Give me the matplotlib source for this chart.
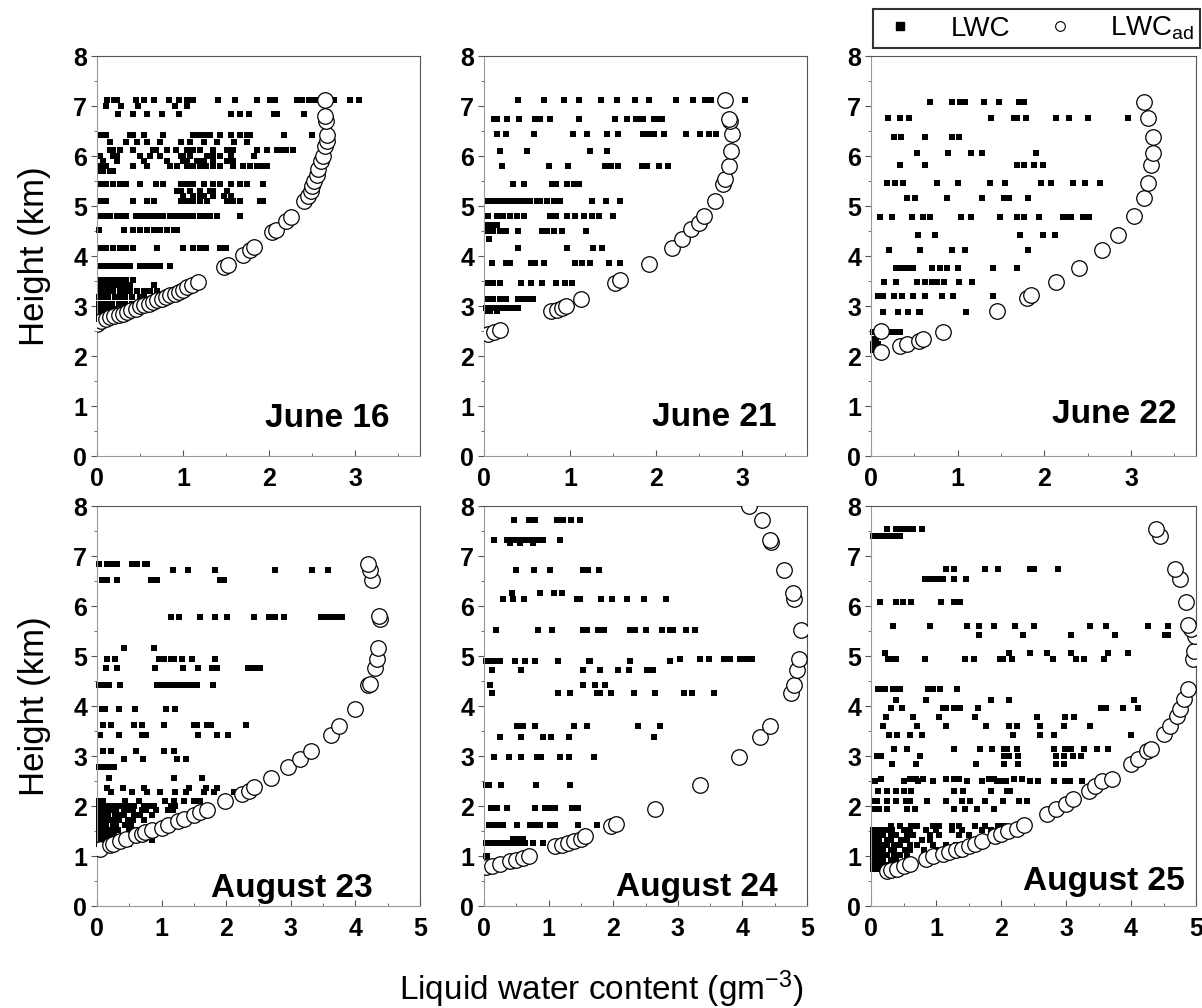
import matplotlib
matplotlib.use("Agg")
import matplotlib.pyplot as plt
from matplotlib.lines import Line2D
from matplotlib.ticker import MultipleLocator

plt.rcParams['font.family'] = ['Liberation Sans', 'DejaVu Sans']
plt.rcParams['mathtext.fontset'] = 'custom'
plt.rcParams['mathtext.rm'] = 'Liberation Sans'
plt.rcParams['mathtext.it'] = 'Liberation Sans'

# ---- data: LWC measured, as rows (height km, list of LWC values g/m3) ----
jun16_lwc = [
    (7.12, [0.12, 0.2, 0.23, 0.45, 0.55, 0.66, 0.84, 0.95, 1.04, 1.11, 1.40, 1.60, 1.86, 2.01, 2.07,
            2.32, 2.38, 2.46, 2.53, 2.75, 2.94, 3.04]),
    (7.0, [0.1, 0.28, 0.48, 0.9, 1.05]),
    (6.85, [0.24, 0.42, 0.58, 0.75, 0.95, 1.55, 1.66, 1.76, 2.05, 2.09, 2.40]),
    (6.42, [0.03, 0.07, 0.11, 0.38, 0.42, 0.54, 0.77, 1.12, 1.16, 1.2, 1.27, 1.31, 1.43, 1.55, 1.66,
            1.74, 1.78, 2.17, 2.5]),
    (6.28, [0.15, 0.34, 0.46, 0.58, 0.73, 0.97, 1.08, 1.24, 1.39, 1.59, 1.74]),
    (6.12, [0.15, 0.19, 0.27, 0.42, 0.65, 0.69, 0.81, 0.92, 1.04, 1.08, 1.12, 1.2, 1.35, 1.51, 1.58,
            1.86, 1.97, 2.09, 2.13, 2.2, 2.28]),
    (6.0, [0.03, 0.19, 0.23, 0.5, 0.62, 0.73, 0.97, 1.0, 1.08, 1.28, 1.31, 1.35, 1.43, 1.55, 1.82]),
    (5.9, [0.07, 0.23, 0.54, 0.81, 1.0, 1.04, 1.16, 1.2, 1.24, 1.35, 1.51, 1.58]),
    (5.8, [0.03, 0.07, 0.11, 0.42, 0.58, 0.85, 0.93, 1.04, 1.12, 1.2, 1.27, 1.35, 1.43, 1.58, 1.7,
           1.78, 1.86, 1.93, 1.97]),
    (5.7, [0.03, 0.07, 0.15, 0.19]),
    (5.45, [0.03, 0.11, 0.19, 0.27, 0.34, 0.5, 0.69, 0.77, 0.97, 1.04, 1.12, 1.24, 1.35, 1.43, 1.55,
            1.66, 1.74, 1.93]),
    (5.3, [0.93, 0.97, 1.08, 1.2, 1.31, 1.35, 1.51]),
    (5.2, [1.0, 1.12, 1.2, 1.24, 1.35, 1.47, 1.55]),
    (5.1, [0.03, 0.11, 0.42, 0.58, 0.66, 0.97, 1.04, 1.12, 1.2, 1.28, 1.51, 1.58, 1.66, 1.89, 1.93]),
    (4.8, [0.03, 0.07, 0.11, 0.15, 0.23, 0.27, 0.34, 0.45, 0.5, 0.54, 0.58, 0.62, 0.66, 0.73, 0.77,
           0.85, 0.89, 0.93, 0.97, 1.04, 1.08, 1.12, 1.2, 1.24, 1.31, 1.39, 1.66]),
    (4.52, [0.02, 0.31, 0.42, 0.5, 0.58, 0.66, 0.73, 0.81, 0.89, 0.93]),
    (4.15, [0.03, 0.11, 0.19, 0.27, 0.34, 0.42, 0.7, 1.0, 1.12, 1.2, 1.27, 1.43, 1.5]),
    (3.8, [0.03, 0.07, 0.11, 0.15, 0.19, 0.23, 0.27, 0.31, 0.34, 0.38, 0.5, 0.54, 0.58, 0.62, 0.66,
           0.73, 0.85]),
    (3.52, [0.03, 0.07, 0.11, 0.15, 0.19, 0.23, 0.27, 0.34, 0.42]),
    (3.42, [0.03, 0.07, 0.11, 0.15, 0.19, 0.23, 0.27, 0.31, 0.38, 0.66]),
    (3.3, [0.03, 0.07, 0.11, 0.15, 0.19, 0.27, 0.31, 0.38, 0.46, 0.54, 0.62, 0.7]),
    (3.18, [0.02, 0.05, 0.09, 0.13, 0.21, 0.25, 0.33, 0.41, 0.5, 0.55]),
    (3.05, [0.02, 0.05, 0.09, 0.13, 0.17, 0.25, 0.33, 0.41]),
    (2.95, [0.02, 0.05, 0.09, 0.13, 0.17, 0.21]),
    (2.85, [0.02, 0.05, 0.09, 0.12]),
    (2.75, [0.02, 0.05]),
]
jun21_lwc = [
    (7.13, [0.40, 0.70, 0.93, 1.1, 1.36, 1.54, 1.75, 1.92, 2.23, 2.43, 2.56, 2.6, 2.64, 3.03]),
    (6.75, [0.12, 0.15, 0.27, 0.41, 0.59, 0.65, 0.77, 1.1, 1.52, 1.66, 1.76, 1.8, 1.85, 1.97, 2.03, 2.07]),
    (6.45, [0.15, 0.26, 0.58, 1.03, 1.2, 1.43, 1.56, 1.85, 1.91, 1.97, 2.09, 2.35, 2.51, 2.61, 2.69]),
    (6.1, [0.18, 0.5, 1.23, 1.43]),
    (5.8, [0.21, 0.76, 0.98, 1.41, 1.47, 1.56, 1.83, 1.89, 2.03, 2.14]),
    (5.45, [0.34, 0.46, 0.79, 0.84, 0.96, 1.04, 1.1]),
    (5.1, [0.05, 0.11, 0.17, 0.22, 0.28, 0.34, 0.4, 0.46, 0.53, 0.61, 0.65, 0.73, 0.81, 0.88, 1.25,
           1.42, 1.58]),
    (4.8, [0.05, 0.15, 0.22, 0.3, 0.38, 0.46, 0.77, 0.84, 0.96, 1.06, 1.16, 1.25, 1.33, 1.5]),
    (4.62, [0.05, 0.11, 0.15]),
    (4.5, [0.05, 0.11, 0.19, 0.26, 0.4, 0.67, 0.73, 0.81, 0.9, 1.19]),
    (4.35, [0.06]),
    (4.17, [0.39, 0.96, 1.26, 1.37]),
    (3.86, [0.09, 0.26, 0.3, 0.55, 0.59, 0.7, 1.06, 1.14, 1.23, 1.45, 1.58]),
    (3.47, [0.05, 0.11, 0.19, 0.43, 0.55, 0.67, 0.84, 0.94, 1.02]),
    (3.15, [0.05, 0.11, 0.19, 0.26, 0.4, 0.46, 0.52, 0.57]),
    (2.96, [0.02, 0.05, 0.09, 0.13, 0.17, 0.22, 0.28, 0.34, 0.4]),
    (2.9, [0.03, 0.07, 0.15]),
]
jun22_lwc = [
    (7.08, [0.68, 0.93, 1.03, 1.08, 1.3, 1.48, 1.71, 1.77]),
    (6.77, [0.2, 0.33, 0.44, 1.39, 1.65, 1.69, 1.79, 2.14, 2.29, 2.5, 2.96]),
    (6.38, [0.26, 0.35, 0.62, 0.93, 1.02]),
    (6.06, [0.53, 0.89, 1.15, 1.28, 1.9]),
    (5.83, [0.33, 0.62, 1.68, 1.77, 1.88, 1.98]),
    (5.47, [0.19, 0.28, 0.37, 0.76, 1.0, 1.37, 1.55, 1.96, 2.08, 2.33, 2.47, 2.64]),
    (5.16, [0.42, 0.51, 0.88, 1.28, 1.54, 1.59, 1.81]),
    (4.79, [0.1, 0.24, 0.47, 0.6, 0.68, 1.04, 1.15, 1.49, 1.69, 1.77, 1.94, 2.21, 2.27, 2.31, 2.45, 2.52]),
    (4.43, [0.54, 0.74, 1.72, 1.98, 2.12]),
    (4.13, [0.21, 0.56, 0.93, 1.08, 1.81]),
    (3.77, [0.29, 0.35, 0.41, 0.49, 0.7, 0.8, 0.88, 1.0, 1.41, 1.69]),
    (3.48, [0.15, 0.29, 0.53, 0.62, 0.7, 0.76, 0.84, 1.01, 1.17]),
    (3.2, [0.08, 0.14, 0.26, 0.36, 0.48, 0.62, 0.82, 0.95, 1.41]),
    (2.89, [0.14, 0.31, 0.43, 0.55, 0.57, 1.1]),
    (2.48, [0.02, 0.2, 0.26, 0.33]),
    (2.35, [0.03, 0.06]),
    (2.25, [0.02, 0.05, 0.08]),
    (2.12, [0.02, 0.04]),
]
aug23_lwc = [
    (6.85, [0.03, 0.16, 0.23, 0.31, 0.54, 0.62, 0.75, 0.78]),
    (6.73, [1.18, 1.41, 1.83, 2.76, 3.33, 3.57]),
    (6.53, [0.08, 0.16, 0.31, 0.83, 0.93, 1.91, 1.96]),
    (5.78, [1.15, 1.27, 1.6, 1.83, 2.02, 2.43, 2.66, 2.76, 2.89, 3.46, 3.54, 3.62, 3.72, 3.8]),
    (5.17, [0.42, 0.89]),
    (4.95, [0.16, 0.28, 0.96, 1.03, 1.14, 1.19, 1.32, 1.47, 1.82]),
    (4.77, [0.14, 0.31, 0.9, 1.33, 1.56, 1.78, 1.86, 2.33, 2.4, 2.48, 2.53]),
    (4.42, [0.03, 0.1, 0.18, 0.36, 0.93, 1.0, 1.09, 1.16, 1.24, 1.32, 1.4, 1.47, 1.55, 1.8]),
    (3.95, [0.08, 0.13, 0.34, 0.59, 1.07, 1.21]),
    (3.62, [0.1, 0.21, 0.57, 0.7, 1.03, 1.5, 1.55, 1.71, 1.76, 2.3]),
    (3.43, [0.04, 0.34, 0.7, 0.76, 1.56, 1.85, 2.03]),
    (3.1, [0.1, 0.21, 0.61, 1.03, 1.19]),
    (2.95, [0.42, 0.71, 1.24, 1.37]),
    (2.78, [0.03, 0.08, 0.13, 0.21, 0.26]),
    (2.57, [0.18, 1.19, 1.63]),
    (2.37, [0.16, 0.41, 0.72, 1.42, 1.68, 1.86]),
    (2.28, [0.21, 0.54, 0.78, 0.98, 1.21, 1.37, 1.65, 1.81, 2.12, 2.2]),
    (2.1, [0.03, 0.1, 0.44, 0.65, 1.06, 1.19, 1.34, 1.5, 1.6]),
    (2.0, [0.03, 0.07, 0.11, 0.2, 0.26, 0.36, 0.42, 0.5, 0.58, 0.72, 0.8, 0.88, 1.15, 1.2]),
    (1.92, [0.03, 0.07, 0.11, 0.15, 0.25, 0.3, 0.42, 0.48, 0.55, 0.7, 0.76, 0.92, 1.1, 1.18]),
    (1.83, [0.03, 0.07, 0.12, 0.17, 0.28, 0.35, 0.42, 0.58, 0.66, 0.85]),
    (1.73, [0.03, 0.07, 0.12, 0.22, 0.28, 0.34, 0.48, 0.56, 0.72]),
    (1.63, [0.03, 0.06, 0.1, 0.14, 0.24, 0.3, 0.44, 0.52]),
    (1.53, [0.03, 0.06, 0.1, 0.19, 0.25, 0.32, 0.5, 0.62, 0.72]),
    (1.43, [0.03, 0.06, 0.1, 0.14, 0.2, 0.27, 0.45, 0.55, 0.68]),
    (1.33, [0.03, 0.06, 0.1, 0.15, 0.22, 0.3, 0.4, 0.48, 0.85]),
    (1.25, [0.03, 0.06, 0.12, 0.2, 0.3, 0.4, 0.5]),
]
aug24_lwc = [
    (7.73, [0.47, 0.69, 0.79, 1.13, 1.23, 1.34, 1.49]),
    (7.33, [0.16, 0.35, 0.45, 0.53, 0.58, 0.63, 0.69, 0.74, 0.79, 0.84, 0.92, 1.18]),
    (7.27, [0.40, 0.56, 0.76]),
    (6.72, [0.5, 0.78, 1.02, 1.54, 1.61, 1.78]),
    (6.27, [0.43, 0.87, 1.09, 1.21]),
    (6.15, [0.3, 0.45, 0.62, 1.44, 1.49, 1.81, 1.98, 2.21, 2.47, 2.81]),
    (5.53, [0.19, 0.84, 1.05, 1.53, 1.59, 1.77, 1.85, 2.26, 2.34, 2.5, 2.75, 2.88, 2.93, 3.12, 3.27]),
    (4.95, [3.04, 3.35, 3.48, 3.71, 3.81, 3.97, 4.05, 4.15]),
    (4.9, [0.03, 0.09, 0.17, 0.25, 0.48, 0.64, 0.79, 1.14, 1.62, 1.64, 2.26, 2.88]),
    (4.72, [0.12, 0.58, 1.53, 1.8, 2.08, 2.24, 2.52, 2.62]),
    (4.43, [0.09, 1.53, 1.72, 1.88]),
    (4.27, [0.12, 1.15, 1.33, 1.75, 1.8, 1.96, 2.32, 2.65, 3.09, 3.22, 3.56]),
    (3.6, [0.51, 0.61, 0.79, 1.4, 1.59, 2.39, 2.73]),
    (3.38, [0.25, 0.58, 0.92, 1.03, 1.32, 2.63]),
    (2.98, [0.16, 0.38, 0.58, 0.82, 0.89, 1.17, 1.31, 1.71]),
    (2.43, [0.03, 0.08, 0.27, 0.81, 1.33]),
    (1.97, [0.11, 0.2, 0.35, 0.79, 0.94, 0.99, 1.05, 1.1, 1.36, 1.41, 1.46]),
    (1.62, [0.07, 0.14, 0.22, 0.3, 0.51, 0.71, 0.76, 0.81, 0.87, 1.02, 1.1, 1.45, 1.75]),
    (1.35, [0.45, 0.53, 0.61]),
    (1.27, [0.03, 0.08, 0.14, 0.2, 0.25, 0.3, 0.35, 0.45, 0.51, 0.56, 0.64, 0.76, 0.92]),
    (1.0, [0.03, 0.05]),
    (0.8, [0.25, 0.4, 0.45]),
]
aug25_lwc = [
    (7.55, [0.25, 0.39, 0.47, 0.55, 0.65, 0.78]),
    (7.4, [0.03, 0.08, 0.13, 0.21, 0.29, 0.37, 0.44]),
    (6.75, [1.16, 1.28, 1.75, 1.96, 2.45, 2.5, 2.88]),
    (6.55, [0.83, 0.88, 0.96, 1.04, 1.11, 1.28, 1.46]),
    (6.08, [0.14, 0.39, 0.49, 0.61, 1.07, 1.27, 1.37]),
    (5.6, [0.34, 0.91, 1.48, 1.66, 1.89, 2.22, 2.51, 3.37, 3.61, 4.26, 4.57]),
    (5.43, [1.66, 2.34, 3.08, 3.75, 4.52, 4.57]),
    (5.07, [0.21, 2.12, 2.45, 2.71, 3.07, 3.64, 3.95]),
    (4.95, [0.26, 0.31, 0.39, 0.83, 1.45, 1.58, 1.98, 2.03, 2.17, 2.8, 3.15, 3.28, 3.59]),
    (4.35, [0.11, 0.16, 0.21, 0.34, 0.39, 0.44, 0.88, 0.96, 1.06, 1.32]),
    (4.13, [0.39, 0.85, 1.84, 2.13, 4.05]),
    (3.97, [0.3, 0.48, 1.11, 1.16, 1.27, 1.37, 1.65, 3.54, 3.61, 3.87, 4.1]),
    (3.78, [0.23, 0.64, 1.05, 1.6, 2.55, 2.99, 3.13]),
    (3.6, [0.18, 0.71, 1.15, 1.77, 2.13, 2.25, 2.6, 2.97, 3.37]),
    (3.43, [0.28, 0.4, 0.6, 0.78, 2.18, 2.6, 2.81, 4.0]),
    (3.15, [0.35, 0.56, 1.27, 1.68, 1.86, 2.05, 2.09, 2.24, 2.82, 2.99, 3.07, 3.28, 3.48, 3.64]),
    (3.0, [0.09, 0.16, 0.76, 2.05, 2.12, 2.26, 2.84, 2.97, 3.1, 3.23]),
    (2.85, [0.33, 0.69, 1.61, 2.05, 2.26, 2.84, 2.97]),
    (2.55, [0.16, 0.6, 0.69, 0.8, 1.16, 1.28, 1.36, 1.82, 1.89, 2.2, 2.32]),
    (2.5, [0.06, 0.51, 0.73, 0.96, 1.47, 1.71, 1.94, 1.98, 2.07, 2.44, 2.57, 2.81, 2.98, 3.06, 3.25]),
    (2.3, [0.11, 0.24, 0.39, 0.51, 0.62, 1.27, 1.42, 1.84, 2.09, 2.14]),
    (2.1, [0.04, 0.09, 0.24, 0.39, 0.54, 0.6, 0.86, 1.15, 1.4, 1.53, 1.76, 2.03, 2.27, 2.4]),
    (1.95, [0.04, 0.13, 0.25, 0.55, 0.68, 1.27, 1.45, 1.63, 1.89]),
    (1.6, [0.3, 0.45, 0.62, 0.7, 0.95, 1.05, 1.25, 1.35, 1.6, 1.75, 1.95, 2.05]),
    (1.52, [0.03, 0.07, 0.12, 0.18, 0.24, 0.32, 0.5, 0.6, 0.85, 1.0, 1.25, 1.4, 1.7, 1.85, 2.15]),
    (1.42, [0.03, 0.07, 0.12, 0.18, 0.3, 0.38, 0.55, 0.65, 0.9, 1.05, 1.35, 1.5]),
    (1.32, [0.03, 0.07, 0.12, 0.24, 0.3, 0.46, 0.55, 0.78, 0.9]),
    (1.22, [0.03, 0.07, 0.12, 0.18, 0.24, 0.36, 0.44, 0.6, 0.7, 0.95, 1.15, 1.3]),
    (1.12, [0.03, 0.07, 0.12, 0.18, 0.3, 0.36, 0.52, 0.6, 0.82, 1.0]),
    (1.02, [0.03, 0.07, 0.12, 0.18, 0.24, 0.36, 0.44, 0.55]),
    (0.92, [0.03, 0.07, 0.12, 0.18, 0.3, 0.38]),
    (0.82, [0.03, 0.07, 0.12, 0.18, 0.24]),
    (0.74, [0.03, 0.07, 0.12, 0.18]),
]

# ---- data: adiabatic LWC (x = LWCad, y = height) ----
jun16_ad_x = [0.0, 0.05, 0.1, 0.15, 0.2, 0.25, 0.3, 0.35, 0.4, 0.45, 0.5, 0.55, 0.6, 0.65, 0.7, 0.75,
              0.8, 0.85, 0.9, 0.95, 1.0, 1.05, 1.1, 1.17, 1.48, 1.52, 1.7, 1.78, 1.82, 2.03, 2.08,
              2.2, 2.25, 2.4, 2.45, 2.48, 2.5, 2.52, 2.55, 2.57, 2.6, 2.62, 2.65, 2.67, 2.67, 2.66,
              2.65, 2.65]
jun16_ad_y = [2.65, 2.7, 2.75, 2.78, 2.8, 2.82, 2.85, 2.88, 2.92, 2.95, 3.0, 3.02, 3.05, 3.08, 3.12,
              3.15, 3.18, 3.22, 3.25, 3.28, 3.32, 3.38, 3.42, 3.48, 3.78, 3.82, 4.02, 4.12, 4.18,
              4.48, 4.52, 4.7, 4.78, 5.1, 5.2, 5.3, 5.4, 5.5, 5.62, 5.75, 5.9, 6.0, 6.2, 6.3, 6.42,
              6.7, 6.8, 7.12]
jun21_ad_x = [0.05, 0.12, 0.18, 0.78, 0.85, 0.9, 0.95, 1.13, 1.52, 1.58, 1.92, 2.18, 2.3, 2.4, 2.5,
              2.55, 2.68, 2.78, 2.8, 2.84, 2.87, 2.88, 2.86, 2.85, 2.8]
jun21_ad_y = [2.45, 2.48, 2.52, 2.9, 2.93, 2.97, 3.0, 3.15, 3.47, 3.52, 3.85, 4.17, 4.35, 4.55, 4.65,
              4.8, 5.1, 5.45, 5.55, 5.8, 6.1, 6.45, 6.7, 6.75, 7.13]
jun22_ad_x = [0.12, 0.12, 0.33, 0.42, 0.55, 0.6, 0.83, 1.45, 1.8, 1.85, 2.13, 2.4, 2.67, 2.85, 3.03,
              3.15, 3.2, 3.23, 3.25, 3.25, 3.2, 3.15]
jun22_ad_y = [2.08, 2.5, 2.2, 2.25, 2.3, 2.35, 2.48, 2.9, 3.17, 3.23, 3.48, 3.77, 4.13, 4.43, 4.8,
              5.16, 5.47, 5.83, 6.06, 6.38, 6.77, 7.08]
aug23_ad_x = [0.05, 0.2, 0.25, 0.35, 0.45, 0.6, 0.7, 0.75, 0.85, 1.0, 1.1, 1.25, 1.35, 1.5, 1.6, 1.7,
              1.98, 2.25, 2.35, 2.43, 2.7, 2.95, 3.15, 3.32, 3.62, 3.75, 4.0, 4.2, 4.22, 4.3, 4.33,
              4.35, 4.38, 4.37, 4.25, 4.23, 4.2]
aug23_ad_y = [1.15, 1.22, 1.25, 1.3, 1.35, 1.42, 1.45, 1.48, 1.52, 1.57, 1.62, 1.7, 1.75, 1.82, 1.88,
              1.93, 2.1, 2.25, 2.3, 2.38, 2.57, 2.78, 2.95, 3.1, 3.43, 3.6, 3.95, 4.42, 4.45, 4.77,
              4.95, 5.17, 5.75, 5.8, 6.53, 6.73, 6.85]
aug24_ad_x = [0.03, 0.12, 0.25, 0.4, 0.5, 0.6, 0.7, 1.1, 1.2, 1.3, 1.4, 1.5, 1.57, 1.97, 2.05, 2.65,
              3.35, 3.95, 4.28, 4.42, 4.75, 4.8, 4.85, 4.87, 4.9, 4.8, 4.78, 4.65, 4.45, 4.42, 4.3, 4.1]
aug24_ad_y = [0.78, 0.8, 0.85, 0.9, 0.93, 0.97, 1.0, 1.2, 1.22, 1.27, 1.3, 1.35, 1.4, 1.6, 1.65, 1.95,
              2.43, 2.98, 3.38, 3.6, 4.27, 4.43, 4.72, 4.95, 5.53, 6.15, 6.27, 6.72, 7.28, 7.33, 7.73, 8.0]
aug25_ad_x = [0.25, 0.3, 0.4, 0.5, 0.6, 0.85, 0.95, 1.1, 1.2, 1.3, 1.4, 1.5, 1.6, 1.7, 1.9, 2.0, 2.1,
              2.25, 2.35, 2.7, 2.85, 3.0, 3.1, 3.35, 3.45, 3.55, 3.7, 4.0, 4.1, 4.25, 4.3, 4.5, 4.6,
              4.7, 4.75, 4.82, 4.88, 4.95, 4.97, 4.98, 4.92, 4.88, 4.85, 4.75, 4.68, 4.45, 4.38]
aug25_ad_y = [0.7, 0.72, 0.75, 0.8, 0.85, 0.95, 1.0, 1.05, 1.08, 1.12, 1.15, 1.2, 1.25, 1.3, 1.4, 1.45,
              1.5, 1.55, 1.62, 1.85, 1.95, 2.05, 2.15, 2.3, 2.4, 2.5, 2.55, 2.85, 2.95, 3.1, 3.15,
              3.45, 3.6, 3.8, 3.95, 4.15, 4.35, 4.95, 5.1, 5.4, 5.55, 5.62, 6.08, 6.55, 6.75, 7.4, 7.55]

dates = ["June 16", "June 21", "June 22", "August 23", "August 24", "August 25"]
lwc_sets = [jun16_lwc, jun21_lwc, jun22_lwc, aug23_lwc, aug24_lwc, aug25_lwc]
ad_sets = [(jun16_ad_x, jun16_ad_y), (jun21_ad_x, jun21_ad_y), (jun22_ad_x, jun22_ad_y),
           (aug23_ad_x, aug23_ad_y), (aug24_ad_x, aug24_ad_y), (aug25_ad_x, aug25_ad_y)]
xmaxes = [3.75, 3.75, 3.75, 5, 5, 5]

W, H = 1202, 1008
fig = plt.figure(figsize=(W / 100, H / 100), dpi=100)

# axes boxes in pixels: left, top, right, bottom
boxes = [(97, 56, 420, 456), (484, 56, 807, 456), (871, 56, 1196, 456),
         (97, 506, 420, 906), (484, 506, 807, 906), (871, 506, 1196, 906)]
label_pos = [(0.907, 0.072), (0.907, 0.075), (0.94, 0.082),
             (0.855, 0.022), (0.91, 0.024), (0.966, 0.04)]

for i in range(6):
    l, t, r, b = boxes[i]
    ax = fig.add_axes([l / W, 1 - b / H, (r - l) / W, (b - t) / H])
    xs, ys = [], []
    for h, row in lwc_sets[i]:
        xs.extend(row)
        ys.extend([h] * len(row))
    ax.scatter(xs, ys, marker='s', s=13, c='black', linewidths=0, zorder=2, clip_on=False)
    ax.scatter(ad_sets[i][0], ad_sets[i][1], marker='o', s=125, facecolors='white',
               edgecolors='black', linewidths=0.9, zorder=3)
    ax.set_xlim(0, xmaxes[i])
    ax.set_ylim(0, 8)
    ax.xaxis.set_major_locator(MultipleLocator(1))
    ax.xaxis.set_minor_locator(MultipleLocator(0.5))
    ax.yaxis.set_major_locator(MultipleLocator(1))
    ax.yaxis.set_minor_locator(MultipleLocator(0.5))
    ax.tick_params(axis='x', which='both', direction='in', color='#555555', pad=8)
    ax.tick_params(axis='x', which='major', length=4)
    ax.tick_params(axis='x', which='minor', length=2)
    ax.tick_params(axis='y', which='both', direction='out', color='#555555', pad=3)
    ax.tick_params(axis='y', which='major', length=4)
    ax.tick_params(axis='y', which='minor', length=2)
    ax.tick_params(labelsize=18)
    for lab in ax.get_xticklabels() + ax.get_yticklabels():
        lab.set_fontweight('bold')
    for side in ['left', 'bottom']:
        ax.spines[side].set_color('#999999')
    for side in ['top', 'right']:
        ax.spines[side].set_color('#555555')
    ax.text(label_pos[i][0], label_pos[i][1], dates[i], transform=ax.transAxes,
            ha='right', va='baseline', fontsize=24, fontweight='bold')
    if i % 3 == 0:
        ax.set_ylabel("Height (km)", fontsize=25, labelpad=16)

fig.text(0.5, 1 - 1000 / H, r"Liquid water content (gm$^{-3}$)", ha='center', va='baseline',
         fontsize=24)

handles = [Line2D([], [], marker='s', ls='none', color='black', markersize=6),
           Line2D([], [], marker='o', ls='none', markerfacecolor='white', markeredgecolor='black',
                  markersize=7, markeredgewidth=0.8)]
leg = fig.legend(handles, ["LWC", r"LWC$_{\rm ad}$"], loc='upper right',
                 bbox_to_anchor=(1200 / W, 1 - 9 / H), borderaxespad=0, ncol=2, fontsize=20,
                 frameon=True, fancybox=False, edgecolor='black', handletextpad=1.0,
                 columnspacing=1.0, borderpad=0.2, handlelength=1.6)
leg.get_frame().set_linewidth(1.5)

fig.savefig("out.png", dpi=100)
